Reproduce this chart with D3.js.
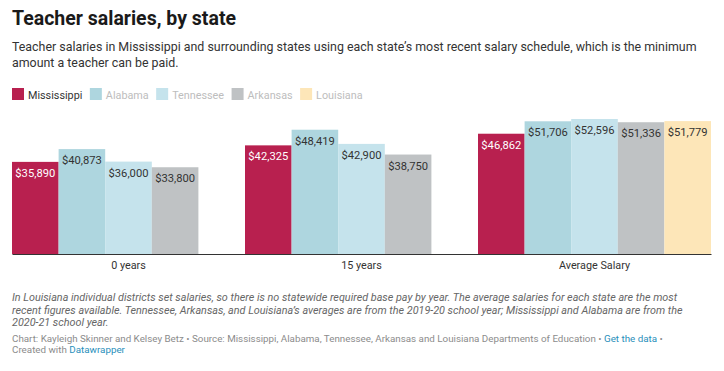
<!DOCTYPE html>
<html>
<head>
<meta charset="utf-8">
<script src="https://cdn.jsdelivr.net/npm/d3@7"></script>
<style>
  body { margin: 0; background: #fff; }
  svg { font-family: Roboto, "Noto Sans", sans-serif; }
</style>
</head>
<body>
<div id="chart"></div>
<script>
// data
var groups = ['0 years', '15 years', 'Average Salary'];
var states = ['Mississippi', 'Alabama', 'Tennessee', 'Arkansas', 'Louisiana'];
var colors = ['#b8204f', '#aed6df', '#c5e3ec', '#bfc2c4', '#fde6b8'];
var mississippi = [35890, 42325, 46862];
var alabama = [40873, 48419, 51706];
var tennessee = [36000, 42900, 52596];
var arkansas = [33800, 38750, 51336];
var louisiana = [null, null, 51779];

var subtitleLines = [
    'Teacher salaries in Mississippi and surrounding states using each state\u2019s most recent salary schedule, which is the minimum',
    'amount a teacher can be paid.'
];
var noteLines = [
    'In Louisiana individual districts set salaries, so there is no statewide required base pay by year. The average salaries for each state are the most',
    'recent figures available. Tennessee, Arkansas, and Louisiana\u2019s averages are from the 2019-20 school year; Mississippi and Alabama are from the',
    '2020-21 school year.'
];

var series = [mississippi, alabama, tennessee, arkansas, louisiana];
var rows = [];
groups.forEach((g, gi) => {
    states.forEach((s, si) => {
        if (series[si][gi] != null) rows.push({group: g, state: s, value: series[si][gi], i: si});
    });
});

var W = 724, H = 371;
var margin = {left: 12, right: 13, top: 119, bottom: 254};

var svg = d3.select('#chart').append('svg')
    .attr('width', W)
    .attr('height', H);

// header
svg.append('text')
    .attr('x', 12).attr('y', 25)
    .attr('font-size', 19.5)
    .attr('font-weight', 700)
    .attr('fill', '#1a1a1a')
    .text('Teacher salaries, by state');

svg.append('text')
    .attr('font-size', 12.4)
    .attr('fill', '#333')
    .selectAll('tspan')
    .data(subtitleLines)
    .join('tspan')
        .attr('x', 12)
        .attr('y', (d, i) => 51 + i * 15.5)
        .text(d => d);

// legend
var legend = svg.append('g').attr('transform', 'translate(12,88)');
var lx = 0;
states.forEach((s, i) => {
    var item = legend.append('g').attr('transform', 'translate(' + lx + ',0)');
    item.append('rect')
        .attr('width', 12).attr('height', 12)
        .attr('fill', colors[i]);
    var t = item.append('text')
        .attr('x', 16).attr('y', 10.5)
        .attr('font-size', 10.8)
        .attr('fill', i === 0 ? '#333' : '#bdbdbd')
        .text(s);
    lx += 16 + t.node().getComputedTextLength() + 7.5;
});

// scales
var x0 = d3.scaleBand()
    .domain(groups)
    .range([margin.left, W - margin.right]);
var x1 = d3.scaleBand()
    .domain(states)
    .range([0, x0.bandwidth()]);
var y = d3.scaleLinear()
    .domain([0, d3.max(rows, d => d.value)])
    .range([margin.bottom, margin.top]);

var bars = svg.append('g');
bars.selectAll('rect')
    .data(rows)
    .join('rect')
        .attr('x', d => x0(d.group) + x1(d.state))
        .attr('y', d => y(d.value))
        .attr('width', x1.bandwidth())
        .attr('height', d => y(0) - y(d.value))
        .attr('fill', d => colors[d.i]);

bars.selectAll('text')
    .data(rows)
    .join('text')
        .attr('x', d => x0(d.group) + x1(d.state) + x1.bandwidth() / 2)
        .attr('y', d => y(d.value) + 15)
        .attr('text-anchor', 'middle')
        .attr('font-size', 11.2)
        .attr('fill', d => d.i === 0 ? '#fff' : '#333')
        .text(d => d3.format('$,')(d.value));

// x axis
var xAxis = svg.append('g')
    .attr('transform', 'translate(0,' + margin.bottom + ')')
    .call(d3.axisBottom(x0).tickSize(0).tickPadding(7));
xAxis.select('path')
    .attr('stroke', '#333')
    .attr('stroke-width', 1.2);
xAxis.selectAll('text')
    .attr('font-family', 'Roboto, sans-serif')
    .attr('font-size', 10.8)
    .attr('fill', '#333');

// notes and credits
svg.append('text')
    .attr('font-size', 10.8)
    .attr('font-style', 'italic')
    .attr('fill', '#666')
    .selectAll('tspan')
    .data(noteLines)
    .join('tspan')
        .attr('x', 12)
        .attr('y', (d, i) => 301 + i * 12.5)
        .text(d => d);

var credit = svg.append('text')
    .attr('font-size', 9.8)
    .attr('fill', '#8c8c8c');
credit.append('tspan').attr('x', 12).attr('y', 341.5)
    .text('Chart: Kayleigh Skinner and Kelsey Betz \u2022 Source: Mississippi, Alabama, Tennessee, Arkansas and Louisiana Departments of Education \u2022 ');
credit.append('tspan').attr('fill', '#2a8fbb').text('Get the data');
credit.append('tspan').text(' \u2022');
credit.append('tspan').attr('x', 12).attr('y', 353).text('Created with ');
credit.append('tspan').attr('fill', '#2a8fbb').text('Datawrapper');
</script>
</body>
</html>
